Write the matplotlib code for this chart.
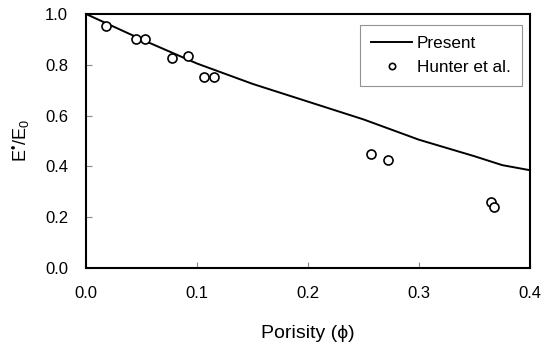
import matplotlib
matplotlib.use('Agg')
import matplotlib.pyplot as plt

plt.rcParams['font.family'] = ['Liberation Sans', 'DejaVu Sans']
plt.rcParams['mathtext.fontset'] = 'custom'
plt.rcParams['mathtext.rm'] = 'Liberation Sans'
plt.rcParams['mathtext.it'] = 'Liberation Sans'

# model curve ("Present")
phi_model = [0.0, 0.05, 0.1, 0.15, 0.2, 0.25, 0.3, 0.35, 0.375, 0.4]
e_model = [1.0, 0.90, 0.805, 0.725, 0.655, 0.585, 0.505, 0.44, 0.405, 0.385]

# experimental data (Hunter et al.)
phi_exp = [0.018, 0.045, 0.053, 0.0775, 0.092, 0.106, 0.115, 0.2565, 0.2724, 0.3646, 0.3673]
e_exp = [0.954, 0.903, 0.903, 0.828, 0.836, 0.751, 0.751, 0.448, 0.424, 0.26, 0.24]

xticks = [0.0, 0.1, 0.2, 0.3, 0.4]
yticks = [0.0, 0.2, 0.4, 0.6, 0.8, 1.0]

fig = plt.figure(figsize=(5.45, 3.51), dpi=100)
ax = fig.add_axes([0.158, 0.2365, 0.8145, 0.7235])

ax.plot(phi_model, e_model, color='black', lw=1.4, label='Present', zorder=2)
ax.plot(phi_exp, e_exp, 'o', ms=6.5, mfc='white', mec='black', mew=1.2,
        linestyle='none', label='Hunter et al.', zorder=3)

ax.set_xlim(0, 0.4)
ax.set_ylim(0, 1.0)
ax.set_xticks(xticks)
ax.set_yticks(yticks)
ax.set_xticklabels([f'{v:.1f}' for v in xticks])
ax.set_yticklabels([f'{v:.1f}' for v in yticks])
ax.tick_params(direction='in', length=4, width=0.8, color='#888888',
               labelsize=12, pad=13)
for s in ax.spines.values():
    s.set_linewidth(1.5)

ax.set_xlabel('Porisity (\u03d5)', fontsize=14, labelpad=17)
ax.set_ylabel('E$^{\u2022}$/E$_0$', fontsize=13, labelpad=9)

leg = ax.legend(loc='upper right', bbox_to_anchor=(0.981, 0.957), fontsize=12.3,
                frameon=True, fancybox=False, handlelength=2.35, handletextpad=0.3,
                markerscale=0.7, borderpad=0.65, labelspacing=0.5, borderaxespad=0)
leg.get_frame().set_edgecolor('#777777')
leg.get_frame().set_linewidth(0.8)

fig.savefig('out.png', dpi=100)
